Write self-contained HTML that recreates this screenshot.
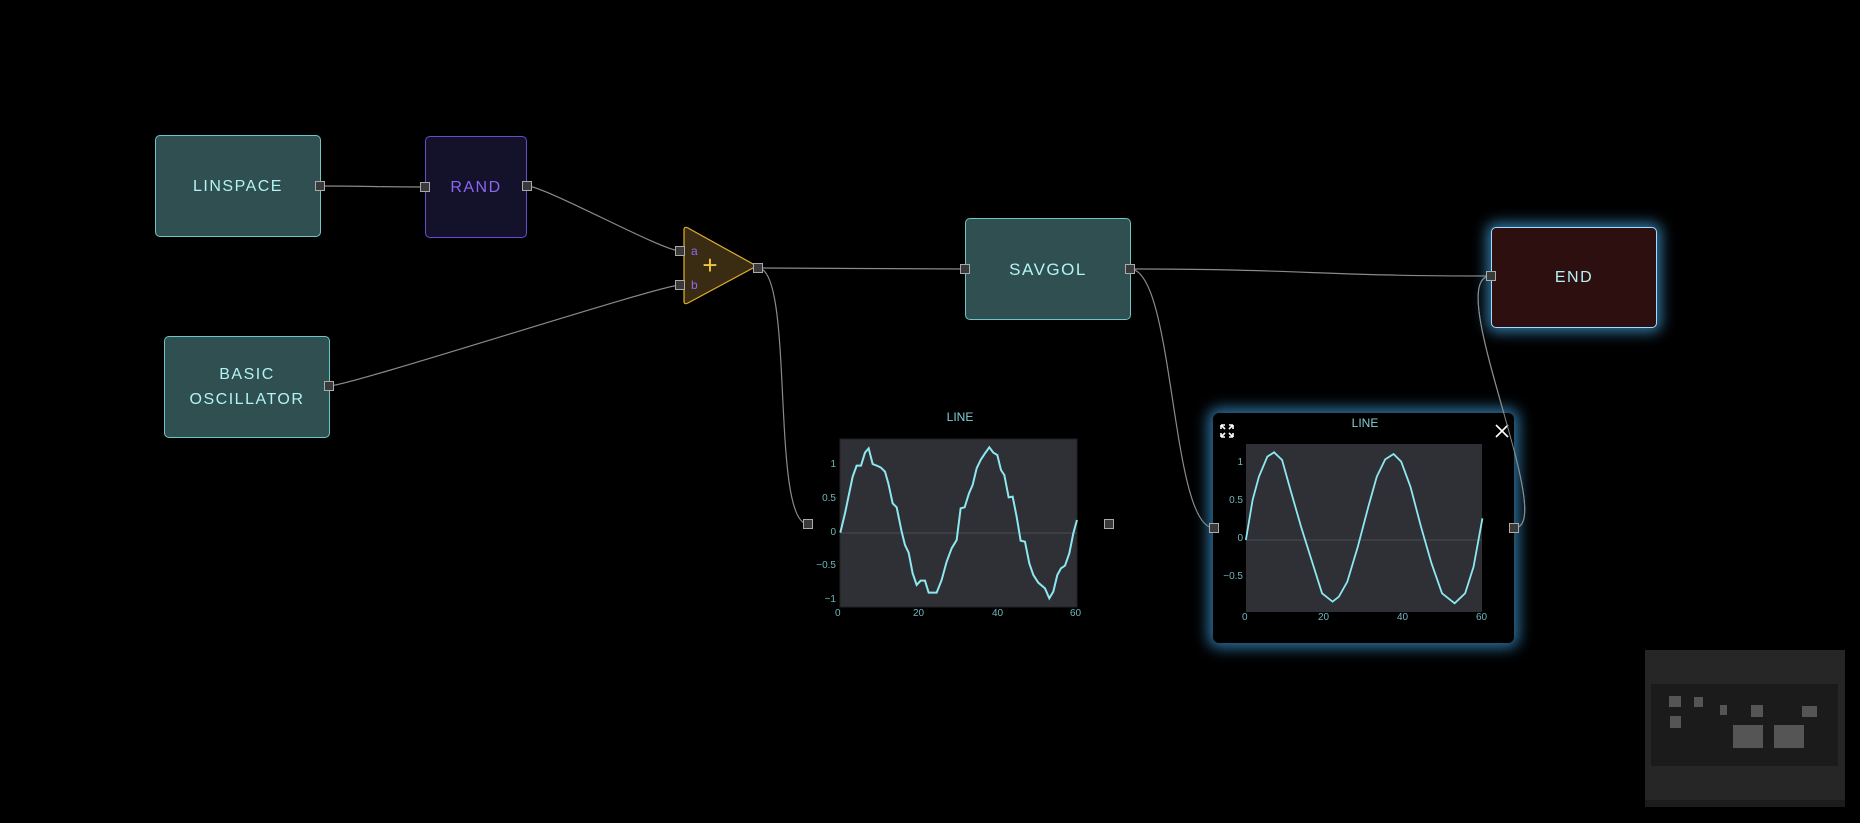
<!DOCTYPE html>
<html><head><meta charset="utf-8"><style>
body{margin:0;width:1860px;height:823px;background:#000;overflow:hidden;position:relative;font-family:"Liberation Sans","DejaVu Sans",sans-serif}
.n{position:absolute;box-sizing:border-box;border-radius:5px;display:flex;align-items:center;justify-content:center;text-align:center;font-size:16px;font-weight:normal;letter-spacing:1.5px;line-height:25px}
.t{background:#2f4f50;border:1px solid #6cc7c9;color:#b4f3f5}
.p{position:absolute;width:8px;height:8px;background:#3a3a3a;border:1px solid #aaa}
.lbl{position:absolute;color:#7ecfd6;font-size:12px}
.ax{position:absolute;color:#6fb5bd;font-size:10px}
</style></head><body>
<svg width="1860" height="823" style="position:absolute;left:0;top:0">
<g fill="none" stroke="#8a8a8a" stroke-width="1.2">
<path d="M320,186 C372,186 373,187 425,187"/>
<path d="M527,186 C545,186 662,251 680,251"/>
<path d="M329,386 C350,386 660,285 680,285"/>
<path d="M758,268 C860,268 860,269 965,269"/>
<path d="M758,268 C795,268 770,524 808,524"/>
<path d="M1130,269 C1310,269 1310,276 1491,276"/>
<path d="M1130,269 C1175,269 1170,528 1214,528"/>
<path d="M1514,528 C1560,528 1440,276 1491,276"/>
</g>
<path d="M684,230 Q684,226 688,228 L753,264 Q756,266 753,268 L688,303 Q684,305 684,301 Z" fill="#3a2c12" stroke="#e0b030" stroke-width="1.2"/>
<text x="710" y="274" fill="#f5c542" font-size="26" font-family="Liberation Sans" text-anchor="middle">+</text>
<text x="691" y="255" fill="#8a6cf0" font-size="12" font-family="Liberation Sans">a</text>
<text x="691" y="289" fill="#8a6cf0" font-size="12" font-family="Liberation Sans">b</text>
<rect x="840" y="439" width="237" height="168" fill="#2e3036" stroke="#222"/>
<line x1="840" y1="533" x2="1077" y2="533" stroke="#4a4c52"/>
<polyline fill="none" stroke="#8ee8f0" stroke-width="2" transform="translate(800,400) scale(0.3333)" vector-effect="non-scaling-stroke" points="121,398 135,340 158,230 170,197 183,197 195,158 206,145 218,192 233,198 243,203 255,215 265,250 278,310 290,322 305,395 315,435 326,458 338,520 350,555 362,542 375,542 386,578 410,578 425,540 440,485 455,445 470,420 482,325 494,322 507,280 518,255 530,205 542,180 553,163 568,142 580,158 592,165 603,210 613,225 626,292 638,290 650,350 662,422 675,425 688,490 700,525 715,548 735,565 748,595 760,575 772,525 783,505 795,497 808,460 820,400 831,360"/>
</svg>
<div class="n t" style="left:155px;top:135px;width:166px;height:102px">LINSPACE</div>
<div class="n" style="left:425px;top:136px;width:102px;height:102px;background:#14112a;border:1px solid #6a4bd0;color:#8a66f5">RAND</div>
<div class="n t" style="left:164px;top:336px;width:166px;height:102px">BASIC<br>OSCILLATOR</div>
<div class="n t" style="left:965px;top:218px;width:166px;height:102px;font-size:17px">SAVGOL</div>
<div class="n" style="left:1491px;top:227px;width:166px;height:101px;background:#2e0f0f;border:1px solid #9fdcff;color:#b4f3f5;box-shadow:0 0 14px 4px rgba(70,160,220,.75)">END</div>

<div style="position:absolute;left:1213px;top:413px;width:301px;height:230px;box-sizing:border-box;background:#000;border-radius:6px;box-shadow:0 0 14px 5px rgba(60,150,210,.75)"></div>
<svg width="1860" height="823" style="position:absolute;left:0;top:0">
<rect x="1246" y="444" width="236" height="168" fill="#2e3036"/>
<line x1="1246" y1="540" x2="1482" y2="540" stroke="#4a4c52"/>
<polyline fill="none" stroke="#8ee8f0" stroke-width="1.8" vector-effect="non-scaling-stroke" transform="translate(1200,400) scale(0.4209,0.3333)" points="109,420 125,300 140,230 160,170 176,157 195,180 215,270 240,380 265,480 290,580 315,605 330,590 350,545 375,440 400,320 420,230 440,178 460,162 478,185 500,260 525,380 550,490 575,580 605,610 630,580 650,500 671,355"/>
<g stroke="#fff" stroke-width="1.6" fill="none">
<path d="M1496,425 L1508,437 M1508,425 L1496,437"/>
<path d="M1221,425 h4 M1221,425 v4 M1221,425 l4,4 M1233,425 h-4 M1233,425 v4 M1233,425 l-4,4 M1221,437 h4 M1221,437 v-4 M1221,437 l4,-4 M1233,437 h-4 M1233,437 v-4 M1233,437 l-4,-4"/>
</g>
<path d="M1514,528 C1560,528 1440,276 1491,276" fill="none" stroke="#8a8a8a" stroke-width="1"/>
</svg>
<div class="lbl" style="left:930px;top:410px;width:60px;text-align:center">LINE</div>
<div class="lbl" style="left:1335px;top:416px;width:60px;text-align:center">LINE</div>
<div class="ax" style="left:820px;top:459px;width:16px;text-align:right">1</div>
<div class="ax" style="left:816px;top:493px;width:20px;text-align:right">0.5</div>
<div class="ax" style="left:820px;top:527px;width:16px;text-align:right">0</div>
<div class="ax" style="left:806px;top:560px;width:30px;text-align:right">−0.5</div>
<div class="ax" style="left:806px;top:594px;width:30px;text-align:right">−1</div>
<div class="ax" style="left:835px;top:608px">0</div>
<div class="ax" style="left:913px;top:608px">20</div>
<div class="ax" style="left:992px;top:608px">40</div>
<div class="ax" style="left:1070px;top:608px">60</div>
<div class="ax" style="left:1225px;top:457px;width:18px;text-align:right">1</div>
<div class="ax" style="left:1222px;top:495px;width:21px;text-align:right">0.5</div>
<div class="ax" style="left:1225px;top:533px;width:18px;text-align:right">0</div>
<div class="ax" style="left:1210px;top:571px;width:33px;text-align:right">−0.5</div>
<div class="ax" style="left:1242px;top:612px">0</div>
<div class="ax" style="left:1318px;top:612px">20</div>
<div class="ax" style="left:1397px;top:612px">40</div>
<div class="ax" style="left:1476px;top:612px">60</div>
<div class="p" style="left:315px;top:181px"></div>
<div class="p" style="left:420px;top:182px"></div>
<div class="p" style="left:522px;top:181px"></div>
<div class="p" style="left:675px;top:246px"></div>
<div class="p" style="left:675px;top:280px"></div>
<div class="p" style="left:324px;top:381px"></div>
<div class="p" style="left:753px;top:263px"></div>
<div class="p" style="left:960px;top:264px"></div>
<div class="p" style="left:1125px;top:264px"></div>
<div class="p" style="left:1486px;top:271px"></div>
<div class="p" style="left:803px;top:519px"></div>
<div class="p" style="left:1104px;top:519px"></div>
<div class="p" style="left:1209px;top:523px"></div>
<div class="p" style="left:1509px;top:523px"></div>
<div style="position:absolute;left:1645px;top:650px;width:200px;height:157px;background:#262626">
<div style="position:absolute;left:6px;top:34px;width:187px;height:82px;background:#1b1b1b"></div>
<div style="position:absolute;left:0;top:150px;width:200px;height:7px;background:#1c1c1c"></div>
<div style="position:absolute;left:24px;top:46px;width:12px;height:11px;background:#555"></div>
<div style="position:absolute;left:49px;top:47px;width:9px;height:10px;background:#555"></div>
<div style="position:absolute;left:75px;top:55px;width:7px;height:10px;background:#555"></div>
<div style="position:absolute;left:106px;top:55px;width:12px;height:12px;background:#555"></div>
<div style="position:absolute;left:157px;top:56px;width:15px;height:11px;background:#555"></div>
<div style="position:absolute;left:25px;top:66px;width:11px;height:12px;background:#555"></div>
<div style="position:absolute;left:88px;top:75px;width:30px;height:23px;background:#555"></div>
<div style="position:absolute;left:129px;top:75px;width:30px;height:23px;background:#555"></div>
</div>
</body></html>
